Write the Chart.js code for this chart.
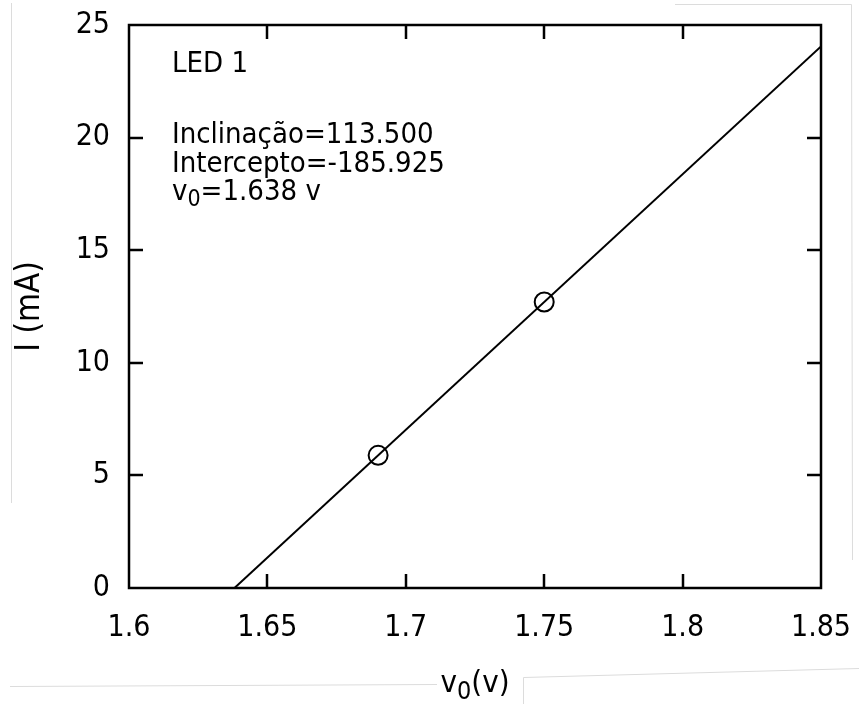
<!DOCTYPE html>
<html>
<head>
<meta charset="utf-8">
<script src="https://cdn.jsdelivr.net/npm/chart.js@4.4.1/dist/chart.umd.min.js"></script>
<style>
  html, body { margin: 0; padding: 0; background: #fff; }
</style>
</head>
<body>
<canvas id="chart" width="859" height="704"></canvas>
<script>
// medidas do LED 1: tensão (V) e corrente (mA)
const voltages = [1.69, 1.75];
const currents = [5.89, 12.70];

// ajuste linear I = a*v + b
const slope = 113.5;
const intercept = -185.925;
const v0 = 1.638;

const xTicks = [1.6, 1.65, 1.7, 1.75, 1.8, 1.85];
const yTicks = [0, 5, 10, 15, 20, 25];

const FONT = "'DejaVu Sans Condensed', 'DejaVu Sans', sans-serif";

const points = voltages.map((v, i) => ({ x: v, y: currents[i] }));
const xEnd = 1.85;
const fitLine = [
  { x: -intercept / slope, y: 0 },
  { x: xEnd, y: slope * xEnd + intercept }
];

// texto com subscrito: partes [texto, subscrito?]
function drawParts(ctx, parts, x, y, size, align) {
  const sub = Math.round(size * 0.8);
  let total = 0;
  parts.forEach(([t, s]) => {
    ctx.font = (s ? sub : size) + 'px ' + FONT;
    total += ctx.measureText(t).width;
  });
  let cx = align === 'center' ? x - total / 2 : x;
  ctx.textAlign = 'left';
  ctx.textBaseline = 'alphabetic';
  parts.forEach(([t, s]) => {
    ctx.font = (s ? sub : size) + 'px ' + FONT;
    ctx.fillText(t, cx, s ? y + size * 0.22 : y);
    cx += ctx.measureText(t).width;
  });
}

// rótulos nas pontas não devem empurrar a área do gráfico
function noOverflow(s) {
  s.paddingTop = s.paddingBottom = s.paddingLeft = s.paddingRight = 0;
}

// moldura fechada com marcas para dentro nos quatro lados
const frame = {
  id: 'frame',
  afterDatasetsDraw(chart) {
    const { ctx, chartArea: a, scales: { x, y } } = chart;
    const len = 14;
    ctx.save();
    ctx.strokeStyle = '#000';
    ctx.lineWidth = 2.5;
    ctx.beginPath();
    xTicks.slice(1, -1).forEach(v => {
      const px = Math.round(x.getPixelForValue(v));
      ctx.moveTo(px, a.bottom); ctx.lineTo(px, a.bottom - len);
      ctx.moveTo(px, a.top); ctx.lineTo(px, a.top + len);
    });
    yTicks.slice(1, -1).forEach(v => {
      const py = Math.round(y.getPixelForValue(v));
      ctx.moveTo(a.left, py); ctx.lineTo(a.left + len, py);
      ctx.moveTo(a.right, py); ctx.lineTo(a.right - len, py);
    });
    ctx.stroke();
    ctx.strokeRect(a.left, a.top, a.right - a.left, a.bottom - a.top);
    ctx.restore();
  }
};

// legenda do ajuste e título do eixo x
const notes = {
  id: 'notes',
  afterDraw(chart) {
    const { ctx, chartArea: a } = chart;
    ctx.save();
    ctx.fillStyle = '#000';
    const lx = a.left + 43;
    drawParts(ctx, [['LED 1', false]], lx, 72, 29);
    drawParts(ctx, [['Inclinação=' + slope.toFixed(3), false]], lx, 143, 29);
    drawParts(ctx, [['Intercepto=' + intercept.toFixed(3), false]], lx, 172, 29);
    drawParts(ctx, [['v', false], ['0', true], ['=' + v0.toFixed(3) + ' v', false]], lx, 200, 29);
    drawParts(ctx, [['v', false], ['0', true], ['(v)', false]], (a.left + a.right) / 2, 692, 31, 'center');
    ctx.restore();
  }
};

// bordas cinza claras do recorte
const edges = {
  id: 'edges',
  beforeDraw(chart) {
    const ctx = chart.ctx;
    ctx.save();
    ctx.strokeStyle = '#dcdcdc';
    ctx.lineWidth = 1;
    ctx.beginPath();
    ctx.moveTo(11.5, 3); ctx.lineTo(11.5, 503);
    ctx.moveTo(10, 686.5); ctx.lineTo(437, 684.5);
    ctx.moveTo(523.5, 704); ctx.lineTo(523.5, 677.5); ctx.lineTo(859, 668.5);
    ctx.moveTo(675, 4.5); ctx.lineTo(851.5, 4.5); ctx.lineTo(852.5, 560);
    ctx.stroke();
    ctx.restore();
  }
};

new Chart(document.getElementById('chart'), {
  type: 'scatter',
  data: {
    datasets: [
      {
        label: 'ajuste',
        data: fitLine,
        showLine: true,
        borderColor: '#000',
        borderWidth: 2,
        pointRadius: 0,
        fill: false
      },
      {
        label: 'LED 1',
        data: points,
        showLine: false,
        pointStyle: 'circle',
        pointRadius: 9.5,
        pointHoverRadius: 9.5,
        pointBorderWidth: 2,
        pointBorderColor: '#000',
        pointBackgroundColor: 'rgba(0,0,0,0)'
      }
    ]
  },
  options: {
    responsive: false,
    animation: false,
    events: [],
    layout: { padding: { top: 25, right: 38, left: 0, bottom: 0 } },
    plugins: { legend: { display: false }, tooltip: { enabled: false } },
    scales: {
      x: {
        type: 'linear',
        min: 1.6,
        max: 1.85,
        afterBuildTicks: s => { s.ticks = xTicks.map(v => ({ value: v })); },
        afterFit: s => { s.height = 116; noOverflow(s); },
        grid: { display: false, drawTicks: false },
        border: { display: false },
        ticks: {
          color: '#000',
          padding: 22,
          maxRotation: 0,
          font: { family: FONT, size: 30 },
          callback: v => String(v)
        }
      },
      y: {
        min: 0,
        max: 25,
        afterBuildTicks: s => { s.ticks = yTicks.map(v => ({ value: v })); },
        afterFit: s => { s.width = 129; noOverflow(s); },
        grid: { display: false, drawTicks: false },
        border: { display: false },
        ticks: {
          color: '#000',
          padding: 19,
          font: { family: FONT, size: 30 }
        },
        title: {
          display: true,
          text: 'I (mA)',
          color: '#000',
          padding: { top: 11, bottom: 0 },
          font: { family: FONT, size: 33 }
        }
      }
    }
  },
  plugins: [edges, frame, notes]
});
</script>
</body>
</html>
